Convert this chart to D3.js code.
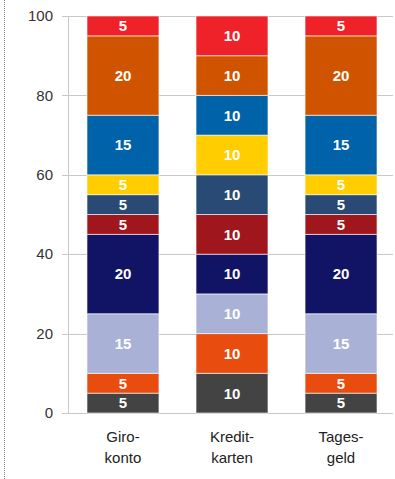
<!DOCTYPE html>
<html>
<head>
<meta charset="utf-8">
<script src="https://cdn.jsdelivr.net/npm/d3@7"></script>
<style>
  body { margin: 0; background: #fff; }
  svg { display: block; font-family: "Liberation Sans", Arial, sans-serif; }
</style>
</head>
<body>
<script>
// categories (two-line labels) and stacked segments, bottom to top
const categories = ["Giro-konto", "Kredit-karten", "Tages-geld"];
const segColors = ["#434343", "#e84c0e", "#a9b2d6", "#111465", "#a0161d", "#284a74", "#ffcd00", "#0062a9", "#d05400", "#ee2228"];
const giroValues = [5, 5, 15, 20, 5, 5, 5, 15, 20, 5];
const kreditValues = [10, 10, 10, 10, 10, 10, 10, 10, 10, 10];
const tagesValues = [5, 5, 15, 20, 5, 5, 5, 15, 20, 5];
const yTicks = [0, 20, 40, 60, 80, 100];

const seriesByCat = [giroValues, kreditValues, tagesValues];

const W = 395, H = 479;
const margin = { top: 16, right: 0, bottom: 66, left: 68 };

const svg = d3.select("body").append("svg")
    .attr("width", W)
    .attr("height", H);

// dotted frame line on the left
svg.append("line")
    .attr("x1", 4.5).attr("x2", 4.5)
    .attr("y1", 0).attr("y2", H)
    .attr("stroke", "#888")
    .attr("stroke-dasharray", "1,1");

const x = d3.scaleBand()
    .domain(categories)
    .range([margin.left + 1, 395])
    .paddingInner(0.34)
    .paddingOuter(0.165);

const y = d3.scaleLinear()
    .domain([0, 100])
    .range([H - margin.bottom, margin.top]);

// grid lines
svg.append("g")
    .selectAll("line")
    .data(yTicks)
    .join("line")
    .attr("x1", margin.left - 6)
    .attr("x2", 393)
    .attr("y1", d => Math.round(y(d)) + 0.5)
    .attr("y2", d => Math.round(y(d)) + 0.5)
    .attr("stroke", "#c8c8c8")
    .attr("stroke-width", 1);

// y axis line
svg.append("line")
    .attr("x1", margin.left + 0.5).attr("x2", margin.left + 0.5)
    .attr("y1", y(100)).attr("y2", y(0))
    .attr("stroke", "#c8c8c8");

// tick labels
svg.append("g")
    .selectAll("text")
    .data(yTicks)
    .join("text")
    .attr("x", 53)
    .attr("y", d => y(d))
    .attr("dy", "0.35em")
    .attr("text-anchor", "end")
    .attr("font-size", "15px")
    .attr("fill", "#333")
    .text(d => d);

// stacked bars
categories.forEach((cat, ci) => {
    const vals = seriesByCat[ci];
    let base = 0;
    const segs = vals.map((v, i) => {
        const s = { y0: base, y1: base + v, v: v, color: segColors[i] };
        base += v;
        return s;
    });

    const g = svg.append("g");

    g.selectAll("rect")
        .data(segs)
        .join("rect")
        .attr("x", x(cat))
        .attr("width", x.bandwidth())
        .attr("y", d => y(d.y1))
        .attr("height", d => y(d.y0) - y(d.y1))
        .attr("fill", d => d.color)
        .attr("stroke", "rgba(255,255,255,0.6)")
        .attr("stroke-width", 1);

    g.selectAll("text")
        .data(segs)
        .join("text")
        .attr("x", x(cat) + x.bandwidth() / 2)
        .attr("y", d => (y(d.y0) + y(d.y1)) / 2)
        .attr("dy", "0.36em")
        .attr("text-anchor", "middle")
        .attr("font-size", "15px")
        .attr("font-weight", "bold")
        .attr("fill", "#fff")
        .text(d => d.v);

    // two-line category label
    const lines = cat.split("-");
    const cx = x(cat) + x.bandwidth() / 2;
    const t = svg.append("text")
        .attr("x", cx)
        .attr("y", 442)
        .attr("text-anchor", "middle")
        .attr("font-size", "15px")
        .attr("fill", "#222");
    t.append("tspan").attr("x", cx).text(lines[0] + "-");
    t.append("tspan").attr("x", cx).attr("dy", "1.4em").text(lines[1]);
});
</script>
</body>
</html>
